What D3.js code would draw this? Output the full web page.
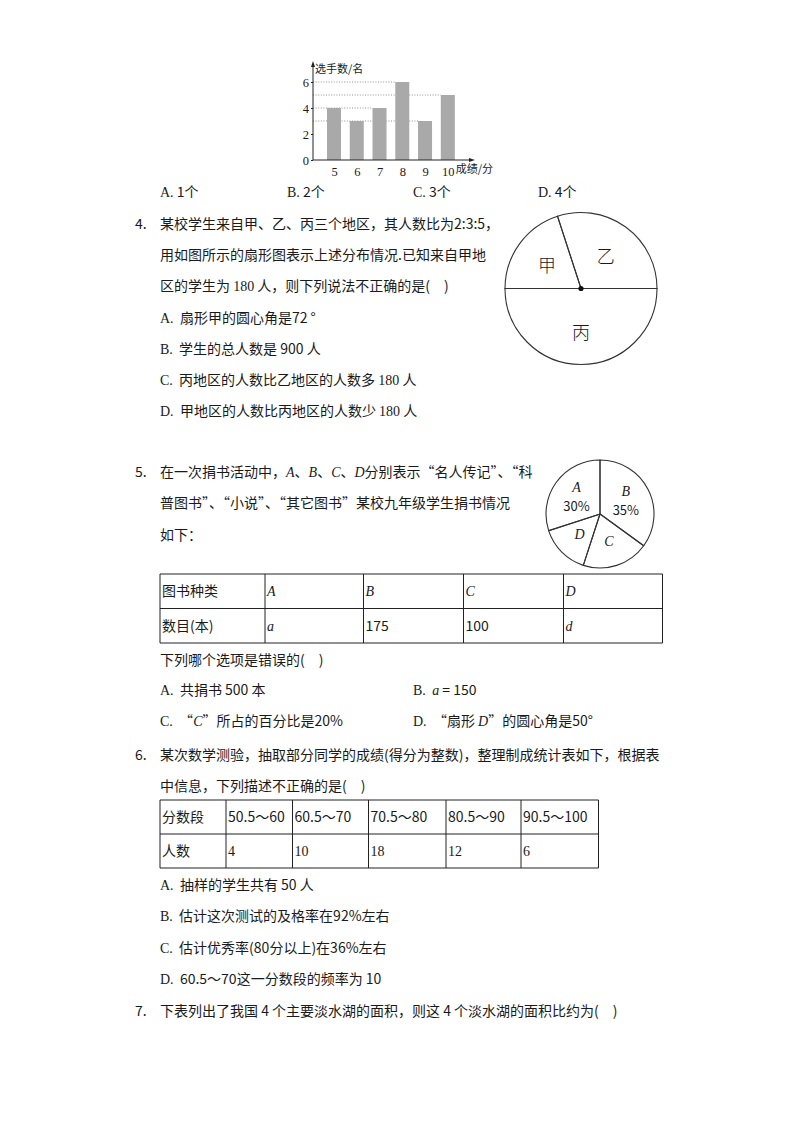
<!DOCTYPE html>
<html><head><meta charset="utf-8">
<script src="https://cdn.jsdelivr.net/npm/d3@7"></script>
<style>
body{margin:0;background:#fff}
svg text{font-family:"Noto Sans CJK SC","Noto Sans",sans-serif;fill:#1a1a1a}
.lat{font-family:"Liberation Serif",serif}
.it{font-family:"Liberation Serif",serif;font-style:italic}
</style></head><body>
<svg id="page" width="794" height="1123" viewBox="0 0 794 1123"></svg>
<script>
// ---------- DATA ----------
const barScores = [5, 6, 7, 8, 9, 10];
const barCounts = [4, 3, 4, 6, 3, 5];
const barTicks = [0, 2, 4, 6];
const regionNames = ["甲", "乙", "丙"];
const regionRatio = [2, 3, 5];
const bookTypes = ["A", "B", "C", "D"];
const bookPercents = [30, 35, 20, 15];
const bookPercentLabels = ["30%", "35%", "", ""];
const table1Header = ["图书种类", "$A$", "$B$", "$C$", "$D$"];
const table1Row = ["数目(本)", "$a$", "175", "100", "$d$"];
const scoreBands = ["50.5～60", "60.5～70", "70.5～80", "80.5～90", "90.5～100"];
const scoreCounts = [4, 10, 18, 12, 6];

// ---------- helpers ----------
const svg = d3.select("#page");
const FS = 14;
const BL = "(\u2002\u2002)"; // empty answer bracket
function rich(sel, str) {
  // $x$ -> italic serif, #x# -> latin serif
  const re = /(\$[^$]*\$|#[^#]*#)/g;
  str.split(re).filter(s => s.length).forEach(s => {
    let cls = null, txt = s;
    if (s[0] === "$") { cls = "it"; txt = s.slice(1, -1); }
    else if (s[0] === "#") { cls = "lat"; txt = s.slice(1, -1); }
    const ts = sel.append("tspan").text(txt.replace(/ /g, "\u00a0"));
    if (cls) ts.attr("class", cls);
  });
  return sel;
}
function line(x, y, str, size) {
  const t = svg.append("text").attr("x", x).attr("y", y).attr("font-size", size || FS);
  return rich(t, str);
}

// ---------- bar chart ----------
{
  const bx = d3.scalePoint().domain(barScores).range([334, 447.8]);
  const by = d3.scaleLinear().domain([0, 6]).range([160, 82]);
  const bw = 14, ax = 313;
  const g = svg.append("g");
  const guideVals = Array.from(new Set(barCounts));
  guideVals.forEach(v => {
    const lastIdx = barCounts.lastIndexOf(v);
    g.append("line").attr("x1", ax).attr("x2", bx(barScores[lastIdx]) - bw / 2)
      .attr("y1", by(v)).attr("y2", by(v))
      .attr("stroke", "#777").attr("stroke-width", 0.8).attr("stroke-dasharray", "1,1.6");
  });
  g.selectAll("rect.bar").data(barScores).join("rect").attr("class", "bar")
    .attr("x", d => bx(d) - bw / 2).attr("width", bw)
    .attr("y", (d, i) => by(barCounts[i]))
    .attr("height", (d, i) => by(0) - by(barCounts[i]))
    .attr("fill", "#a9a9a9");
  g.append("line").attr("x1", ax).attr("x2", ax).attr("y1", by(0)).attr("y2", 64).attr("stroke", "#222").attr("stroke-width", 1);
  g.append("path").attr("d", `M${ax},61 L${ax - 2},67 L${ax + 2},67 Z`).attr("fill", "#222");
  g.append("line").attr("x1", ax).attr("x2", 472).attr("y1", by(0)).attr("y2", by(0)).attr("stroke", "#222").attr("stroke-width", 1);
  g.append("path").attr("d", `M475,${by(0)} L469,${by(0) - 2} L469,${by(0) + 2} Z`).attr("fill", "#222");
  const yAxis = g.append("g").attr("transform", `translate(${ax},0)`)
    .call(d3.axisLeft(by).tickValues(barTicks).tickFormat(d3.format("d")).tickSize(2).tickPadding(2));
  yAxis.select(".domain").remove();
  yAxis.selectAll("line").attr("stroke", "#222");
  yAxis.selectAll("text").attr("class", "lat").attr("font-size", 12.5).attr("fill", "#1a1a1a");
  const xAxis = g.append("g").attr("transform", `translate(0,${by(0)})`)
    .call(d3.axisBottom(bx).tickSize(0).tickPadding(7));
  xAxis.select(".domain").remove();
  xAxis.selectAll("text").attr("class", "lat").attr("font-size", 12.5).attr("fill", "#1a1a1a");
  g.append("text").attr("x", bx(10) + 8).attr("y", 173).attr("font-size", 11).text("成绩/分");
  g.append("text").attr("x", ax + 2).attr("y", 73).attr("font-size", 11).text("选手数/名");
}

// ---------- text: Q3 options ----------
line(160, 197, "#A.# 1个");
line(287, 197, "#B.# 2个");
line(413, 197, "#C.# 3个");
line(538, 197, "#D.# 4个");

// ---------- Q4 ----------
line(135, 229, "4.");
line(160, 229, "某校学生来自甲、乙、丙三个地区，其人数比为2:3:5，");
line(160, 260, "用如图所示的扇形图表示上述分布情况.已知来自甲地");
line(160, 291, "区的学生为 #180# 人，则下列说法不正确的是" + BL);
line(160, 323, "#A.#  扇形甲的圆心角是72 °");
line(160, 354, "#B.#  学生的总人数是 900 人");
line(160, 385, "#C.#  丙地区的人数比乙地区的人数多 #180# 人");
line(160, 416, "#D.#  甲地区的人数比丙地区的人数少 #180# 人");

{
  const r = 76;
  const g = svg.append("g").attr("transform", "translate(581,288.5)");
  const arcs = d3.pie().sort(null).startAngle(-Math.PI / 2).endAngle(1.5 * Math.PI)(regionRatio);
  const arc = d3.arc().innerRadius(0).outerRadius(r);
  const lab = d3.arc().innerRadius(42).outerRadius(42);
  g.selectAll("path").data(arcs).join("path").attr("d", arc)
    .attr("fill", "none").attr("stroke", "#333").attr("stroke-width", 1.1);
  g.selectAll("text").data(arcs).join("text")
    .attr("transform", d => `translate(${lab.centroid(d)})`)
    .attr("text-anchor", "middle").attr("dominant-baseline", "central")
    .attr("font-size", 18).attr("font-weight", 300).text((d, i) => regionNames[i]);
  g.append("circle").attr("r", 2.6).attr("fill", "#111");
}

// ---------- Q5 ----------
line(135, 477, "5.");
line(160, 477, "在一次捐书活动中，$A$、$B$、$C$、$D$分别表示“名人传记”、“科");
line(160, 508, "普图书”、“小说”、“其它图书”某校九年级学生捐书情况");
line(160, 540, "如下：");

{
  const r = 54;
  const g = svg.append("g").attr("transform", "translate(600,514)");
  const arcs = d3.pie().sort(null).startAngle(-0.6 * Math.PI).endAngle(1.4 * Math.PI)(bookPercents);
  const arc = d3.arc().innerRadius(0).outerRadius(r);
  const lab = d3.arc().innerRadius(29).outerRadius(29);
  g.selectAll("path").data(arcs).join("path").attr("d", arc)
    .attr("fill", "none").attr("stroke", "#333").attr("stroke-width", 1.1);
  const lg = g.selectAll("g.lab").data(arcs).join("g").attr("class", "lab")
    .attr("transform", d => `translate(${lab.centroid(d)})`);
  lg.append("text").attr("class", "it").attr("text-anchor", "middle").attr("dominant-baseline", "central")
    .attr("font-size", 14).attr("y", (d, i) => bookPercentLabels[i] ? -9 : 0).text((d, i) => bookTypes[i]);
  lg.append("text").attr("text-anchor", "middle").attr("dominant-baseline", "central")
    .attr("font-size", 13).attr("y", 9).text((d, i) => bookPercentLabels[i]);
}

// ---------- tables ----------
function table(x0, y0, colW, rowH, rows) {
  const g = svg.append("g");
  const xs = [x0];
  colW.forEach(w => xs.push(xs[xs.length - 1] + w));
  const total = xs[xs.length - 1] - x0;
  rows.forEach((row, ri) => {
    row.forEach((cell, ci) => {
      const t = g.append("text").attr("x", xs[ci] + 2).attr("y", y0 + rowH * ri + rowH / 2 + 5)
        .attr("font-size", FS);
      rich(t, String(cell));
    });
  });
  for (let i = 0; i <= rows.length; i++)
    g.append("line").attr("x1", x0).attr("x2", x0 + total).attr("y1", y0 + rowH * i).attr("y2", y0 + rowH * i)
      .attr("stroke", "#222").attr("stroke-width", 1);
  xs.forEach(x => g.append("line").attr("x1", x).attr("x2", x).attr("y1", y0).attr("y2", y0 + rowH * rows.length)
    .attr("stroke", "#222").attr("stroke-width", 1));
}
table(160, 574, [105, 98.5, 100, 100, 99], 34.5, [table1Header, table1Row]);

line(160, 665, "下列哪个选项是错误的" + BL);
line(160, 695, "#A.#  共捐书 500 本");
line(413, 695, "#B.#  $a$ = 150");
line(160, 726, "#C.#  “$C$”所占的百分比是20%");
line(413, 726, "#D.#  “扇形 $D$”的圆心角是50°");

// ---------- Q6 ----------
line(135, 760, "6.");
line(160, 760, "某次数学测验，抽取部分同学的成绩(得分为整数)，整理制成统计表如下，根据表");
line(160, 791, "中信息，下列描述不正确的是" + BL);
table(160, 800, [66, 66.5, 76, 77.5, 75, 77.5], 34,
  [["分数段"].concat(scoreBands), ["人数"].concat(scoreCounts.map(v => "#" + v + "#"))]);

line(160, 890, "#A.#  抽样的学生共有 50 人");
line(160, 921, "#B.#  估计这次测试的及格率在92%左右");
line(160, 953, "#C.#  估计优秀率(80分以上)在36%左右");
line(160, 984, "#D.#  60.5～70这一分数段的频率为 10");

line(135, 1016, "7.");
line(160, 1016, "下表列出了我国 4 个主要淡水湖的面积，则这 4 个淡水湖的面积比约为" + BL);
</script>
</body></html>
